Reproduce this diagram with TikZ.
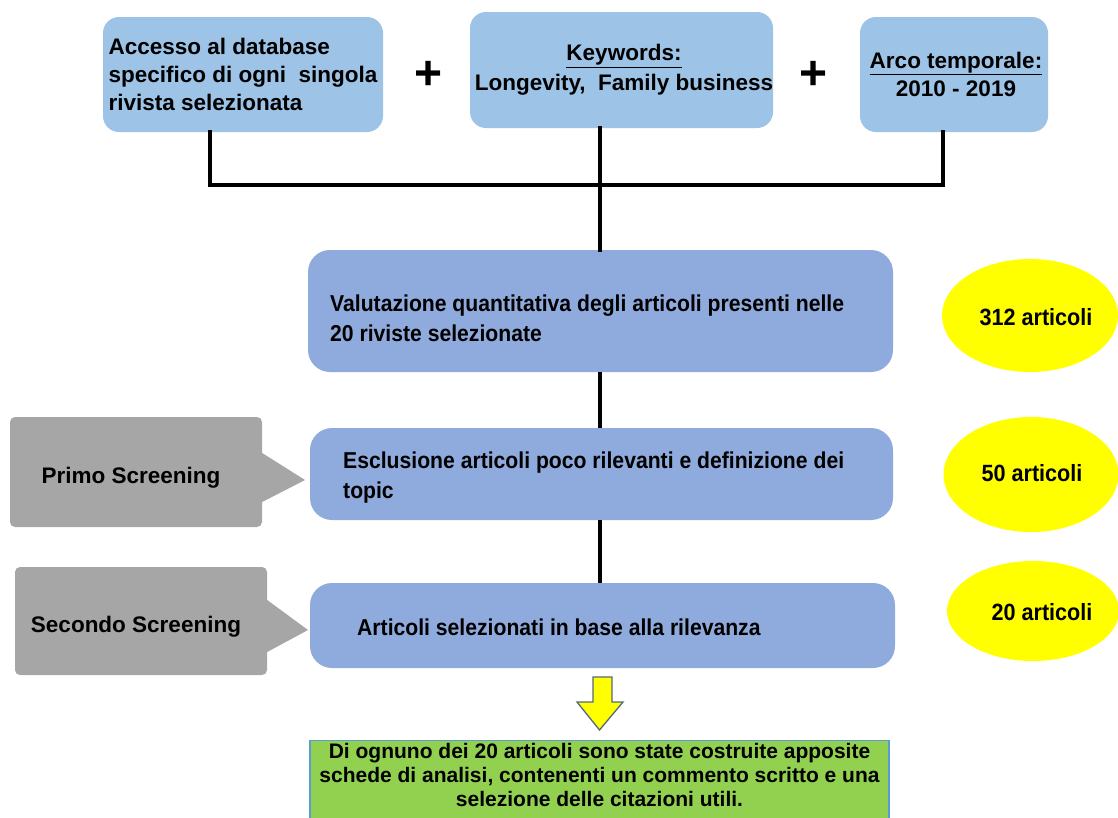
\documentclass[tikz,border=0pt]{standalone}
\usepackage{fontspec}
\setmainfont{Liberation Sans}
\newfontfamily\narrowsans{Liberation Sans}[FakeStretch=0.92]
\usetikzlibrary{shapes.geometric}
\definecolor{topblue}{RGB}{157,195,230}
\definecolor{midblue}{RGB}{143,170,220}
\definecolor{callgray}{RGB}{166,166,166}
\definecolor{ellyellow}{RGB}{255,255,0}
\definecolor{boxgreen}{RGB}{146,208,80}
\definecolor{greenborder}{RGB}{91,155,213}
\definecolor{arrowborder}{RGB}{84,104,124}
\begin{document}
\begin{tikzpicture}[x=1pt,y=-1pt,
  every node/.style={text=black},
  toptext/.style={font=\fontsize{22.5}{28}\selectfont\bfseries, inner sep=0pt},
  midtext/.style={font=\narrowsans\fontsize{23}{30}\selectfont\bfseries, inner sep=0pt, anchor=west, align=left},
  topbox/.style={fill=topblue, rounded corners=16pt, inner sep=0pt},
  midbox/.style={fill=midblue, rounded corners=22pt, inner sep=0pt},
  callbox/.style={fill=callgray, rounded corners=5pt, inner sep=0pt},
  calltext/.style={font=\fontsize{22.5}{28}\selectfont\bfseries, inner sep=0pt},
  countell/.style={ellipse, fill=ellyellow, inner sep=0pt,
    font=\narrowsans\fontsize{23.5}{28}\selectfont\bfseries},
  plus/.style={font=\fontsize{48}{48}\selectfont\bfseries, inner sep=0pt},
  conn/.style={line width=4pt, line cap=rect},
]
\useasboundingbox (0,0) rectangle (1118,817);

% top boxes
\node[topbox, toptext, align=left, minimum width=280pt, minimum height=115pt] (A) at (243,74.5)
  {Accesso al database\\specifico di ogni~ singola\\rivista selezionata};
\node[topbox, minimum width=303pt, minimum height=116pt] (B) at (621.5,70) {};
\node[toptext, align=center, font=\fontsize{22.5}{30}\selectfont\bfseries] (Bt) at (624,70)
  {\underline{Keywords:}\\Longevity,~ Family business};
\node[topbox, minimum width=188pt, minimum height=115pt] (C) at (954,74.5) {};
\node[toptext, align=center, font=\fontsize{22.5}{28}\selectfont\bfseries] (Ct) at (956,74)
  {\underline{Arco temporale:}\\2010 - 2019};
\node[plus] (p1) at (429,75) {+};
\node[plus] (p2) at (814,75) {+};

% middle boxes
\node[midbox, minimum width=585pt, minimum height=122pt] (M1) at (600.5,311) {};
\node[midtext] (M1t) at (330,318)
  {Valutazione quantitativa degli articoli presenti nelle\\20 riviste selezionate};
\node[midbox, minimum width=583pt, minimum height=92pt] (M2) at (601.5,474) {};
\node[midtext] (M2t) at (343,478)
  {Esclusione articoli poco rilevanti e definizione dei\\topic};
\node[midbox, minimum width=585pt, minimum height=85pt] (M3) at (602.5,625.5) {};
\node[midtext] (M3t) at (357,627)
  {Articoli selezionati in base alla rilevanza};

% connectors
\coordinate (J) at (600,185);
\draw[conn] ([xshift=-33pt]A.south) |- (J);
\draw[conn] (J) -| ([xshift=-11pt]C.south);
\draw[conn] ([xshift=-21.5pt]B.south) -- ([xshift=-0.5pt]M1.north);
\draw[conn, line cap=butt] ([xshift=-0.5pt]M1.south) -- ([xshift=-1.5pt]M2.north);
\draw[conn, line cap=butt] ([xshift=-1.5pt]M2.south) -- ([xshift=-2.5pt]M3.north);

% callouts
\node[callbox, minimum width=252pt, minimum height=110pt] (S1) at (136,472) {};
\node[calltext] (S1t) at (131,478) {Primo Screening};
\coordinate (S1tip) at (305,480);
\fill[callgray] ([yshift=19pt]S1.east) -- (S1tip) -- ([yshift=-30pt]S1.east) -- cycle;
\node[callbox, minimum width=252pt, minimum height=108pt] (S2) at (141,621) {};
\node[calltext] (S2t) at (136,627) {Secondo Screening};
\coordinate (S2tip) at (308,630);
\fill[callgray] ([yshift=21pt]S2.east) -- (S2tip) -- ([yshift=-31pt]S2.east) -- cycle;

% counts
\node[countell, minimum width=176pt, minimum height=113pt] (E1) at (1030,315.5) {};
\node[countell, fill=none] (E1t) at (1036,317) {312 articoli};
\node[countell, minimum width=175pt, minimum height=115pt] (E2) at (1031,474.5) {};
\node[countell, fill=none] (E2t) at (1032,473) {50 articoli};
\node[countell, minimum width=172pt, minimum height=100pt] (E3) at (1033,611) {};
\node[countell, fill=none] (E3t) at (1042,612) {20 articoli};

% result box
\node[fill=boxgreen, draw=greenborder, line width=1.2pt, minimum width=579pt, minimum height=80pt,
      inner sep=0pt, anchor=north] (G) at (599.5,740) {};
\node[align=center, inner sep=0pt, anchor=north, font=\fontsize{21}{24}\selectfont\bfseries] (Gt) at (599.5,743)
  {Di ognuno dei 20 articoli sono state costruite apposite\\schede di analisi, contenenti un commento scritto e una\\selezione delle citazioni utili.};

% yellow arrow
\draw[fill=ellyellow, draw=arrowborder, line width=1.3pt, line join=miter]
  (593,677) -- (612,677) -- (612,702) -- (623,702) -- (599.5,730) -- (577,702) -- (593,702) -- cycle;
\end{tikzpicture}
\end{document}
